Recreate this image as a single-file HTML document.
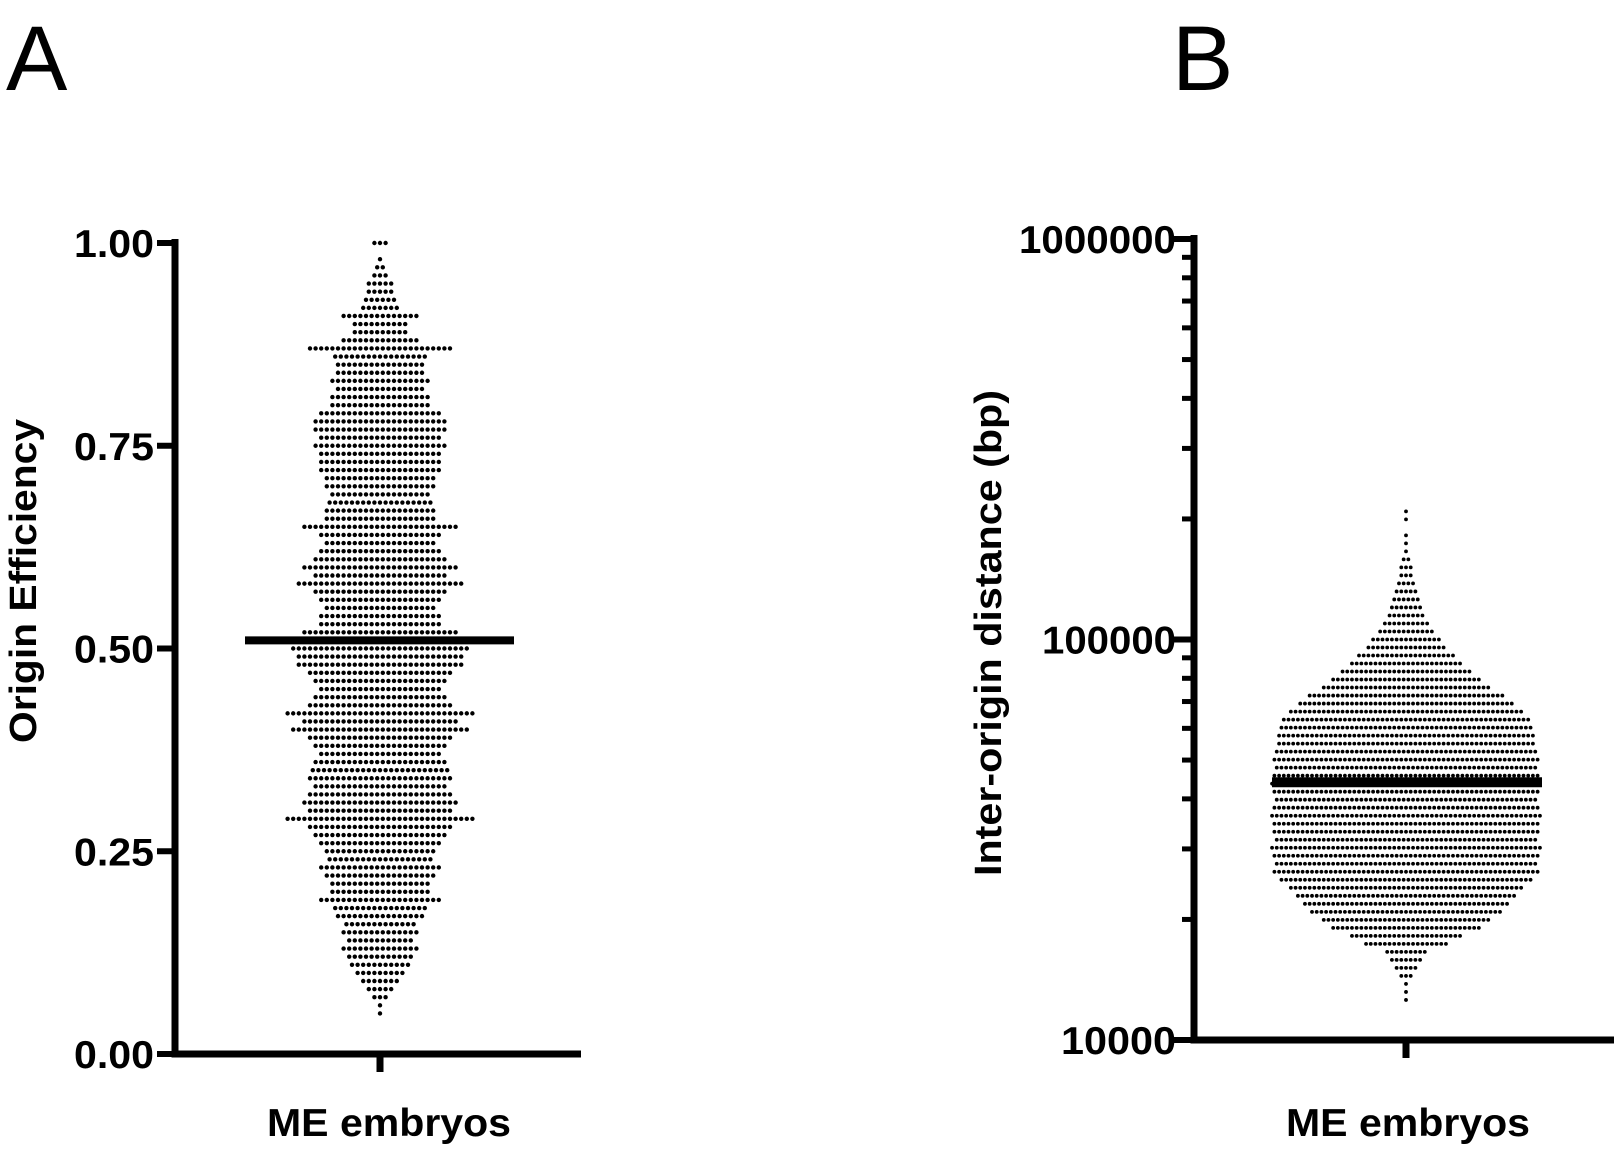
<!DOCTYPE html>
<html><head><meta charset="utf-8"><style>
html,body{margin:0;padding:0;background:#fff}
svg{display:block;font-family:"Liberation Sans",Arial,sans-serif}
</style></head><body>
<svg id="fig" width="1614" height="1153" viewBox="0 0 1614 1153">
<text x="6" y="90" font-size="92">A</text>
<text x="1172" y="90" font-size="92">B</text>
<g id="pa"></g>
<g id="pb"></g>
</svg>
<script>
// Panel A data: efficiency bins (0.05..1.00 step 0.01) and dot counts
const effBins = [0.05,0.06,0.07,0.08,0.09,0.10,0.11,0.12,0.13,0.14,0.15,0.16,0.17,0.18,0.19,0.20,0.21,0.22,0.23,0.24,0.25,0.26,0.27,0.28,0.29,0.30,0.31,0.32,0.33,0.34,0.35,0.36,0.37,0.38,0.39,0.40,0.41,0.42,0.43,0.44,0.45,0.46,0.47,0.48,0.49,0.50,0.51,0.52,0.53,0.54,0.55,0.56,0.57,0.58,0.59,0.60,0.61,0.62,0.63,0.64,0.65,0.66,0.67,0.68,0.69,0.70,0.71,0.72,0.73,0.74,0.75,0.76,0.77,0.78,0.79,0.80,0.81,0.82,0.83,0.84,0.85,0.86,0.87,0.88,0.89,0.90,0.91,0.92,0.93,0.94,0.95,0.96,0.97,0.98,0.99,1.00];
const effCounts = [1,1,3,5,7,9,11,12,14,12,14,13,16,17,22,18,18,20,22,19,20,22,24,26,34,26,28,26,24,26,25,24,22,24,26,32,28,34,26,24,22,24,26,30,30,32,30,28,22,22,20,22,24,30,24,28,24,22,20,22,28,20,20,19,18,20,20,22,22,22,24,22,24,24,22,18,18,16,18,16,16,17,26,14,10,10,14,7,6,5,5,3,2,1,0,3];
const effMedian = 0.51;
const effTicks = ["0.00","0.25","0.50","0.75","1.00"];
const effTickVals = [0,0.25,0.5,0.75,1];
// Panel B data: log10(distance) bins and dot counts
const distLogBins = [4.10,4.12,4.14,4.16,4.18,4.20,4.22,4.24,4.26,4.28,4.30,4.32,4.34,4.36,4.38,4.40,4.42,4.44,4.46,4.48,4.50,4.52,4.54,4.56,4.58,4.60,4.62,4.64,4.66,4.68,4.70,4.72,4.74,4.76,4.78,4.80,4.82,4.84,4.86,4.88,4.90,4.92,4.94,4.96,4.98,5.00,5.02,5.04,5.06,5.08,5.10,5.12,5.14,5.16,5.18,5.20,5.22,5.24,5.26,5.28,5.30,5.32];
const distCounts = [1,1,1,3,5,7,9,18,24,32,36,41,44,47,50,54,57,56,57,58,56,57,57,58,57,56,57,58,57,56,57,56,55,55,54,53,50,46,42,36,32,28,24,21,17,15,12,10,8,7,6,5,4,3,3,2,1,1,1,0,1,1];
const distMedian = 44000;
const distTicks = ["10000","100000","1000000"];
const distTickVals = [10000,100000,1000000];

const NS="http://www.w3.org/2000/svg";
function mk(parent,tag,attrs,txt){const e=document.createElementNS(NS,tag);for(const k in attrs)e.setAttribute(k,attrs[k]);if(txt!==undefined)e.textContent=txt;parent.appendChild(e);return e;}

// Panel A
(function(){
 const g=document.getElementById('pa');
 const x0=175,yTop=243,yBot=1054,cx=380;
 const y=v=>yBot-(v)*(yBot-yTop);
 for(let i=0;i<effBins.length;i++){
  const n=effCounts[i],yy=y(effBins[i]);
  for(let j=0;j<n;j++){
   const c=mk(g,'circle',{cx:cx+(j-(n-1)/2)*5.6,cy:yy,r:2.2,fill:'#000'});
   
   
  }
 }
 const m=mk(g,'line',{x1:245,x2:514,y1:y(effMedian),y2:y(effMedian),stroke:'#000','stroke-width':8});
 
 const ax=mk(g,'path',{d:`M${x0} ${yTop-4}V${yBot}H581`,stroke:'#000','stroke-width':7,fill:'none'});
 
 mk(g,'line',{x1:cx,x2:cx,y1:yBot,y2:yBot+18,stroke:'#000','stroke-width':7});
 for(let i=0;i<effTickVals.length;i++){
  const yy=y(effTickVals[i]);
  mk(g,'line',{x1:x0-18,x2:x0,y1:yy,y2:yy,stroke:'#000','stroke-width':6});
  const t=mk(g,'text',{x:154,y:yy+14,'font-size':39,'font-weight':'bold','text-anchor':'end',textLength:80,lengthAdjust:'spacingAndGlyphs'},effTicks[i]);
  
 }
 const tt=mk(g,'text',{transform:'translate(36,581) rotate(-90)','font-size':38,'font-weight':'bold','text-anchor':'middle',textLength:324,lengthAdjust:'spacingAndGlyphs'},'Origin Efficiency');
 
 const xt=mk(g,'text',{x:389,y:1136,'font-size':39,'font-weight':'bold','text-anchor':'middle',textLength:244,lengthAdjust:'spacingAndGlyphs'},'ME embryos');
 
})();

// Panel B
(function(){
 const g=document.getElementById('pb');
 const x0=1194,yTop=239,yBot=1040,cx=1406;
 const yl=l=>yBot-(l-4)/2*(yBot-yTop);
 const y=v=>yl(Math.log10(v));
 for(let i=0;i<distLogBins.length;i++){
  const n=distCounts[i];
  const yy=yl(distLogBins[i]);
  for(let j=0;j<n;j++){
   const c=mk(g,'circle',{cx:cx+(j-(n-1)/2)*4.7,cy:yy,r:1.9,fill:'#000'});
   
   
  }
 }
 const m=mk(g,'line',{x1:1272,x2:1542,y1:y(distMedian),y2:y(distMedian),stroke:'#000','stroke-width':10});
 
 const ax=mk(g,'path',{d:`M${x0} ${yTop-4}V${yBot}H1614`,stroke:'#000','stroke-width':7,fill:'none'});
 
 mk(g,'line',{x1:cx,x2:cx,y1:yBot,y2:yBot+18,stroke:'#000','stroke-width':7});
 [10000,100000].forEach(d=>{for(let k=2;k<=9;k++){const yy=y(d*k);mk(g,'line',{x1:x0-12,x2:x0,y1:yy,y2:yy,stroke:'#000','stroke-width':5});}});
 const tl=[115,134,157];
 for(let i=0;i<distTickVals.length;i++){
  const yy=y(distTickVals[i]);
  mk(g,'line',{x1:x0-20,x2:x0,y1:yy,y2:yy,stroke:'#000','stroke-width':6});
  const t=mk(g,'text',{x:1176,y:yy+14,'font-size':39,'font-weight':'bold','text-anchor':'end',textLength:tl[i],lengthAdjust:'spacingAndGlyphs'},distTicks[i]);
  
 }
 const tt=mk(g,'text',{transform:'translate(1001,633) rotate(-90)','font-size':38,'font-weight':'bold','text-anchor':'middle',textLength:486,lengthAdjust:'spacingAndGlyphs'},'Inter-origin distance (bp)');
 
 const xt=mk(g,'text',{x:1408,y:1136,'font-size':39,'font-weight':'bold','text-anchor':'middle',textLength:244,lengthAdjust:'spacingAndGlyphs'},'ME embryos');
 
})();
</script>
</body></html>
